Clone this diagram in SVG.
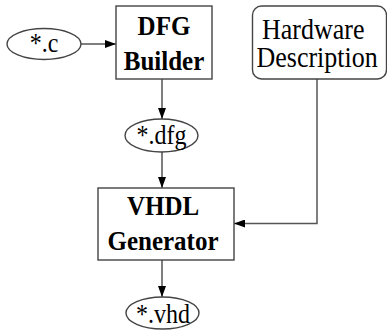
<svg xmlns="http://www.w3.org/2000/svg" width="387" height="331" viewBox="0 0 387 331">
  <style>
    .shape { fill: #fff; stroke: #444; stroke-width: 1.4; }
    .wire { fill: none; stroke: #555; stroke-width: 1.5; }
    .bold { font-family: "Liberation Serif", "Times New Roman", serif; font-weight: bold; font-size: 25px; fill: #000; text-anchor: middle; }
    .plain { font-family: "Liberation Serif", "Times New Roman", serif; font-size: 24px; fill: #000; }
    .label { font-family: "Liberation Serif", "Times New Roman", serif; font-size: 26px; fill: #000; }
  </style>
  <defs>
    <marker id="arrow" markerWidth="11" markerHeight="8" refX="11" refY="4" orient="auto" markerUnits="userSpaceOnUse">
      <path d="M0,0 L11,4 L0,8 Z" fill="#000"/>
    </marker>
  </defs>
  <rect width="387" height="331" fill="#fff"/>

  <g id="connectors">
    <line class="wire" x1="81" y1="44" x2="116" y2="44" marker-end="url(#arrow)"/>
    <line class="wire" x1="162" y1="79" x2="162" y2="119" marker-end="url(#arrow)"/>
    <line class="wire" x1="162" y1="152" x2="162" y2="188" marker-end="url(#arrow)"/>
    <polyline class="wire" points="317,79 317,223.5 234,223.5" marker-end="url(#arrow)"/>
    <line class="wire" x1="162" y1="260" x2="162" y2="297" marker-end="url(#arrow)"/>
  </g>

  <g id="src-c">
    <ellipse class="shape" cx="44" cy="44" rx="37" ry="15.5"/>
    <text class="plain" transform="translate(44,52) scale(1,1.17)" text-anchor="middle">*.c</text>
  </g>

  <g id="dfg-builder">
    <rect class="shape" x="116" y="6" width="96" height="73"/>
    <text class="bold" transform="translate(164,35) scale(1,1.05)">DFG</text>
    <text class="bold" transform="translate(164,70) scale(1,1.05)">Builder</text>
  </g>

  <g id="hw-desc">
    <rect class="shape" x="252.5" y="6" width="134" height="73" rx="9" ry="9"/>
    <text class="label" transform="translate(262,38.5) scale(1,1.15)">Hardware</text>
    <text class="label" transform="translate(256.5,67) scale(1,1.15)">Description</text>
  </g>

  <g id="dfg-file">
    <ellipse class="shape" cx="161.5" cy="135.5" rx="36.5" ry="16.5"/>
    <text class="plain" transform="translate(161.5,144) scale(1,1.17)" text-anchor="middle">*.dfg</text>
  </g>

  <g id="vhdl-generator">
    <rect class="shape" x="98" y="188" width="136" height="72"/>
    <text class="bold" transform="translate(163,215) scale(1,1.05)">VHDL</text>
    <text class="bold" transform="translate(163,250) scale(1,1.05)">Generator</text>
  </g>

  <g id="vhd-file">
    <ellipse class="shape" cx="162.5" cy="313" rx="36.5" ry="16"/>
    <text class="plain" transform="translate(163,323) scale(1,1.17)" text-anchor="middle">*.vhd</text>
  </g>
</svg>
